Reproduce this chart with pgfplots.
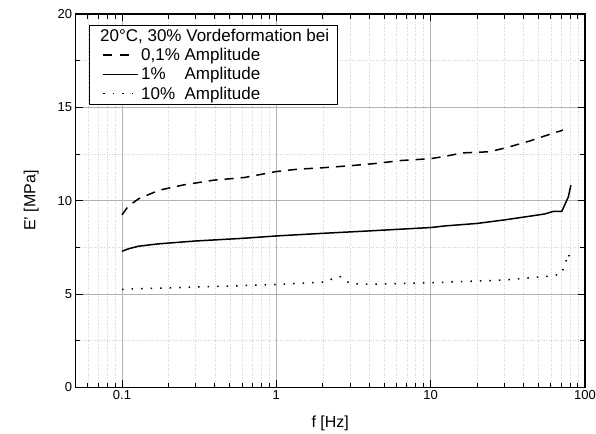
\documentclass[border=0pt]{standalone}
\usepackage{pgfplots}
\pgfplotsset{compat=1.18}
\usepackage{fontspec}
\setmainfont{Liberation Sans}
\usetikzlibrary{calc}
\begin{document}
\begin{tikzpicture}
\begin{axis}[
  scale only axis,
  width=509pt, height=373pt,
  xmode=log, xmin=0.05, xmax=100,
  ymin=0, ymax=20,
  ytick={0,5,10,15,20},
  minor ytick={2.5,7.5,12.5,17.5},
  xtick={0.1,1,10,100},
  xticklabels={0.1,1,10,100},
  minor xtick={0.05,0.06,0.07,0.08,0.09,0.2,0.3,0.4,0.5,0.6,0.7,0.8,0.9,2,3,4,5,6,7,8,9,20,30,40,50,60,70,80,90},
  tick align=inside,
  major tick length=7pt, minor tick length=4.5pt,
  grid=both,
  major grid style={draw=black!30, line width=0.7pt},
  minor grid style={draw=black!17, dotted, line width=0.5pt},
  axis line style={line width=1.1pt},
  every tick/.style={black, line width=0.9pt},
  tick label style={font=\fontsize{13}{15}\selectfont},
  /pgf/number format/assume math mode=true,
  xlabel={f [Hz]}, ylabel={E' [MPa]},
  label style={font=\fontsize{16}{18}\selectfont},
  xlabel style={yshift=-9pt},
  ylabel style={yshift=12pt},
  legend cell align=left,
  legend style={at={(0.0265,0.9705)}, anchor=north west, draw=black, line width=0.6pt,
    font=\fontsize{17}{20}\selectfont, row sep=1.5pt, inner xsep=6pt, inner ysep=1.5pt},
  legend image code/.code={\draw[#1, line width=1.5pt] (8pt,0pt) -- (43pt,0pt);},
]
\addlegendimage{empty legend}
\addlegendentry{\hspace{-41pt}20°C, 30\% Vordeformation bei}
\addplot[black, line width=1.5pt, dash pattern=on 9pt off 7pt, forget plot] coordinates {
(0.1,9.24) (0.110,9.71) (0.128,10.1) (0.174,10.56) (0.249,10.84) (0.394,11.1)
(0.62,11.24) (1.0,11.56) (1.39,11.69) (1.9,11.75) (3.0,11.87) (4.5,12.0)
(6.4,12.15) (10,12.25) (12.5,12.38) (16.1,12.56) (24,12.62) (31,12.84)
(44,13.2) (55,13.47) (72,13.78)};
\addlegendimage{legend image code/.code={\draw[black, line width=1.5pt, dash pattern=on 9pt off 8pt] (8pt,0pt) -- (35pt,0pt);}}
\addlegendentry{0,1\% Amplitude}
\addplot[black, line width=1.5pt] coordinates {
(0.1,7.29) (0.110,7.42) (0.128,7.56) (0.174,7.69) (0.3,7.84) (0.6,7.98)
(1.0,8.11) (2,8.25) (4,8.38) (10,8.56) (12.5,8.65) (20,8.78) (29.5,8.96)
(45,9.18) (55,9.29) (62,9.42) (70.7,9.42) (78,10.2) (81,10.83)};
\addlegendentry{1\%\phantom{0,} Amplitude}
\addplot[black, line width=1.5pt, dash pattern=on 1.5pt off 8pt] coordinates {
(0.1,5.25) (0.18,5.32) (0.4,5.4) (1.0,5.51) (2.1,5.65) (2.34,5.84) (2.6,5.93)
(3.0,5.56) (4,5.52) (10,5.6) (30,5.75) (60,5.96) (70,6.07) (74,6.56)
(78,7.16) (81,6.75)};
\addlegendentry{10\%\phantom{,} Amplitude}
\end{axis}
\pgfresetboundingbox
\path ($(current axis.south west)+(-75.5pt,-46pt)$) rectangle ($(current axis.north east)+(11pt,14pt)$);
\end{tikzpicture}
\end{document}
